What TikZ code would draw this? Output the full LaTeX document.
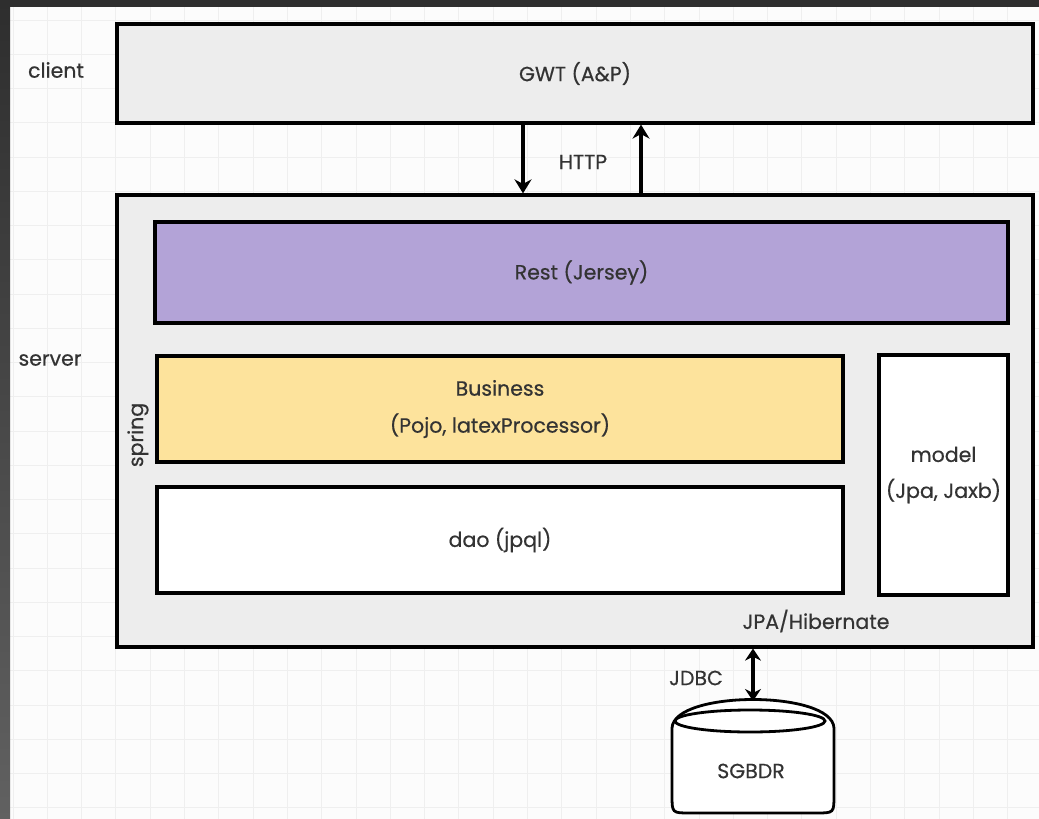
\documentclass[tikz,border=0pt]{standalone}
\usepackage{fontspec}
\setmainfont{Poppins}[FakeBold=0.5]
\usetikzlibrary{arrows.meta,calc}
\definecolor{txt}{HTML}{333333}
\definecolor{boxgray}{HTML}{EDEDED}
\definecolor{restpurple}{HTML}{B3A3D7}
\definecolor{busyellow}{HTML}{FDE39C}
\definecolor{gridc}{HTML}{EFEFEF}
\definecolor{framec}{HTML}{2E2E2E}
\tikzset{
  layer/.style={draw=black, line width=3.2pt, text=txt, font=\fontsize{20.5}{23}\selectfont, align=center, inner sep=0pt},
  lbl/.style={text=txt, font=\fontsize{20.5}{23}\selectfont, inner sep=0pt},
  arr/.style={line width=4pt, -{Stealth[length=14pt,width=17pt]}},
  darr/.style={line width=4pt, {Stealth[length=12pt,width=16pt]}-{Stealth[length=12pt,width=16pt]}},
}
\begin{document}
\begin{tikzpicture}[x=1pt,y=-1pt]
\useasboundingbox (0,0) rectangle (1039,819);
\fill[white!98!gray] (0,0) rectangle (1039,819);
% grid
\foreach \i in {0,...,30} {\draw[gridc, line width=1pt] ({13+34.3*\i},0) -- ({13+34.3*\i},819);}
\foreach \j in {0,...,23} {\draw[gridc, line width=1pt] (0,{20+34.26*\j}) -- (1039,{20+34.26*\j});}
% dark frame
\fill[framec] (0,0) rectangle (1039,7);
\shade[top color=framec, bottom color=black!62] (0,0) rectangle (10,819);

% client
\node[layer, fill=boxgray, minimum width=916pt, minimum height=99pt] (gwt) at (575,73.5) {GWT (A\&P)};
\node[lbl] (client) at (56,70) {client};

% server
\node[layer, fill=boxgray, minimum width=916pt, minimum height=452pt] (server) at (575,421) {};
\node[lbl] (serverlbl) at (50,360) {server};

\node[layer, fill=restpurple, minimum width=853pt, minimum height=101pt] (rest) at (581.5,272.5) {Rest (Jersey)};
\node[layer, fill=busyellow, minimum width=686pt, minimum height=106pt] (business) at (500,409) {Business\\[14pt](Pojo, latexProcessor)};
\node[layer, fill=white, minimum width=686pt, minimum height=106pt] (dao) at (500,540) {dao (jpql)};
\node[layer, fill=white, minimum width=129pt, minimum height=240pt] (model) at (943.5,475) {model\\[13pt](Jpa, Jaxb)};
\node[lbl, rotate=90] (spring) at (138,435) {spring};
\node[lbl] (jpa) at (816,621) {JPA/Hibernate};

% HTTP
\coordinate (h1) at (523,0);
\coordinate (h2) at (641,0);
\draw[arr] (gwt.south -| h1) -- (server.north -| h1);
\draw[arr] (server.north -| h2) -- (gwt.south -| h2);
\node[lbl] (http) at (583,162) {HTTP};

% database
\draw[line width=2.8pt, fill=white] (672,728) -- (672,795) .. controls (672,813) .. (690,813) -- (816,813) .. controls (834,813) .. (834,795) -- (834,728) .. controls (832,690) and (674,690) .. (672,728) -- cycle;
\draw[line width=2.8pt] (750,721) ellipse [x radius=75pt, y radius=11pt];
\node[lbl] (db) at (751,771) {SGBDR};
\coordinate (jd) at (753,0);
\coordinate (dbtop) at (753,701);
\draw[darr] (server.south -| jd) -- (dbtop);
\node[lbl] (jdbc) at (696,678) {JDBC};
\end{tikzpicture}
\end{document}
